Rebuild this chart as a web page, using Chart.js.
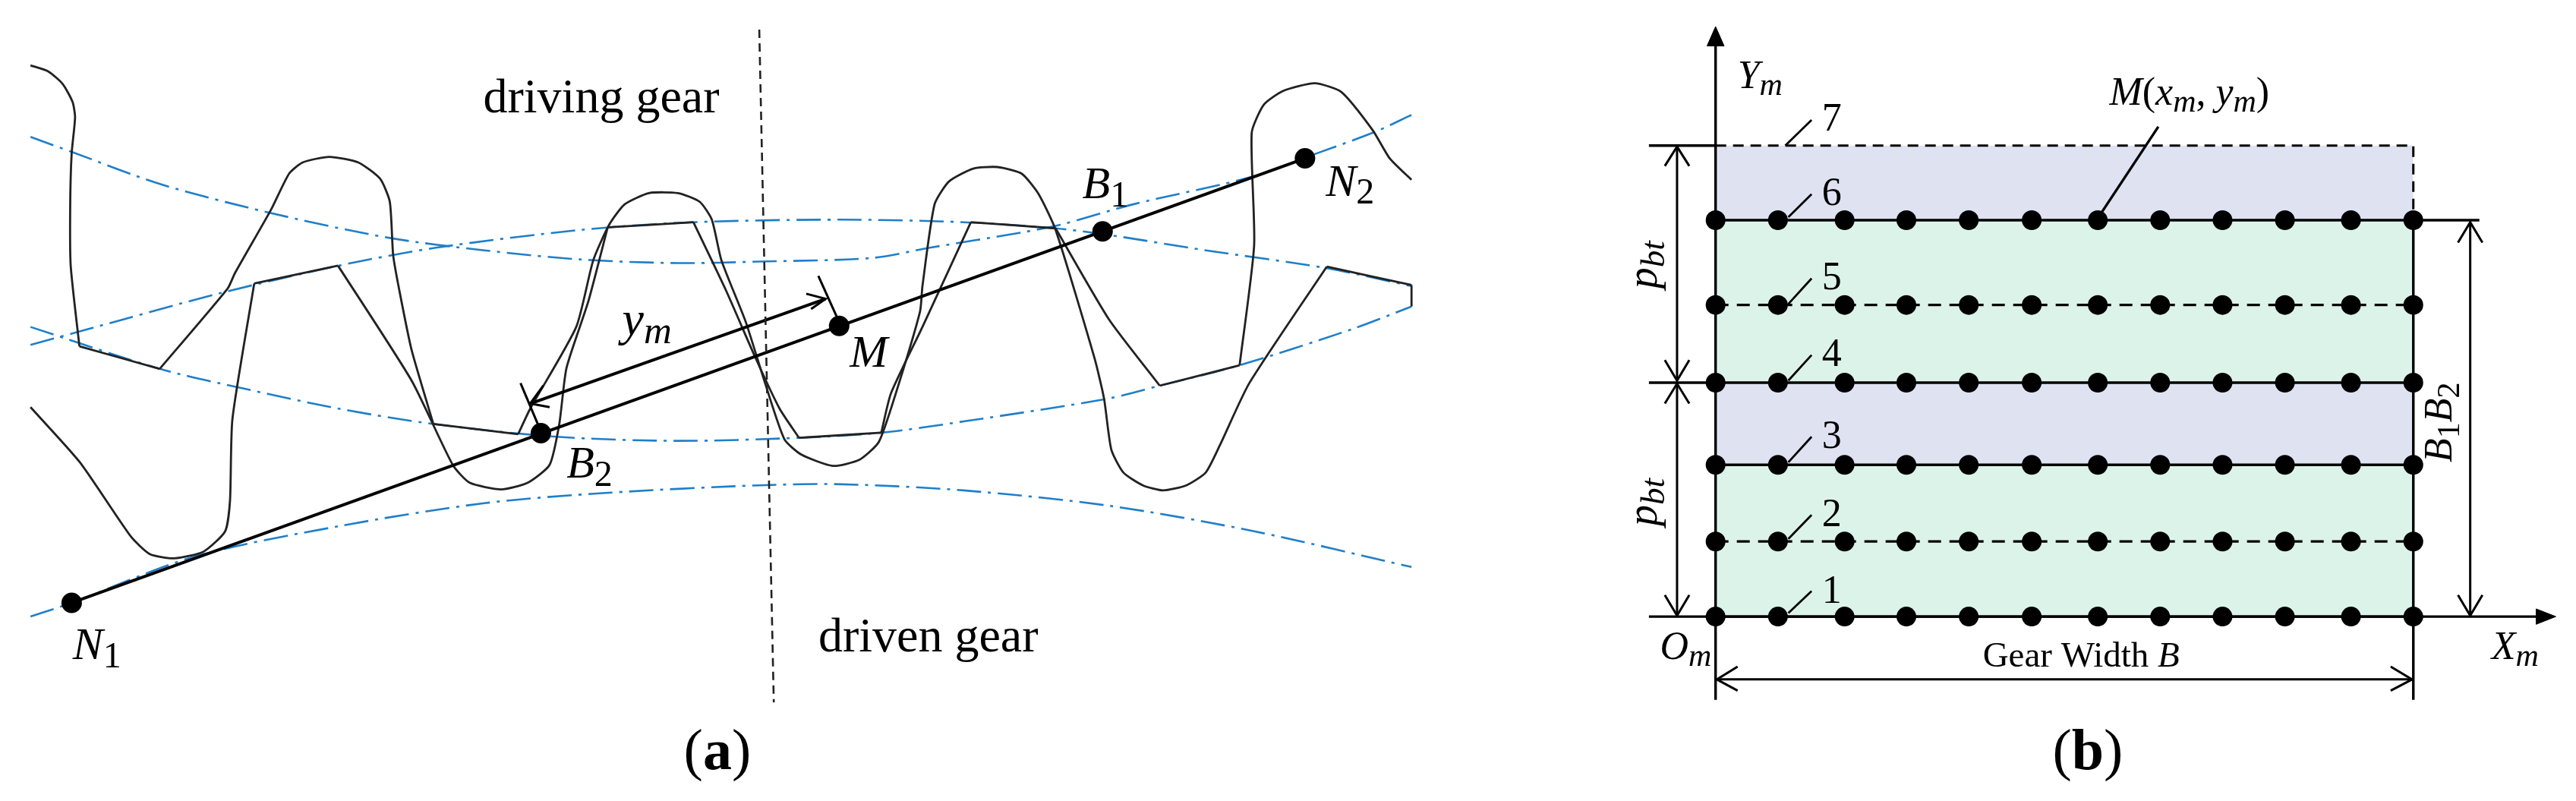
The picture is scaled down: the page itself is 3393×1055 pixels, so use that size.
<!DOCTYPE html>
<html>
<head>
<meta charset="utf-8">
<title>Gear meshing</title>
<script src="https://cdn.jsdelivr.net/npm/chart.js@4/dist/chart.umd.min.js"></script>
<style>
  html, body { margin: 0; padding: 0; background: #fff; }
  canvas { position: absolute; top: 0; }
  #panelA { left: 0; }
  #panelB { left: 2130px; }
</style>
</head>
<body>
<canvas id="panelA" width="1900" height="1055"></canvas>
<canvas id="panelB" width="1263" height="1055"></canvas>
<script>
// panel (a): values, in drawing units
const topArc = [[63,268],[150,298],[330,360],[550,415],[800,465],[1000,490],[1200,508],[1400,515],[1568,512],[1800,505],[1920,485],[2110,455],[2190,440],[2340,400],[2590,345],[2720,300],[2840,258],[2915,225]];
const upperArc = [[63,675],[160,650],[450,575],[700,520],[900,485],[1200,450],[1432,435],[1740,430],[1990,435],[2180,447],[2290,460],[2490,490],[2740,525],[2915,560]];
const lowerArc = [[63,640],[330,722],[500,760],[700,800],[895,830],[1150,855],[1400,863],[1650,857],[1820,847],[1990,825],[2290,780],[2395,755],[2560,715],[2790,645],[2915,600]];
const bottomArc = [[63,1207],[148,1180],[400,1090],[700,1030],[1000,985],[1250,965],[1568,950],[1740,948],[1990,960],[2290,990],[2590,1040],[2915,1110]];

const drivingFlanks = [
  [[63,128],[100,140],[130,165],[150,200],[155,230],[148,300],[145,400],[146,520],[164,678]],
  [[164,678],[330,722]],
  [[330,722],[470,565],[485,535],[560,410],[597,340],[625,318],[680,307],[740,318],[785,350],[805,395],[812,500],[825,570],[850,685],[895,830]],
  [[895,830],[1070,850]],
  [[1070,850],[1095,800],[1190,640],[1225,510],[1258,440],[1290,400],[1340,378],[1400,378],[1445,395],[1470,430],[1490,510],[1540,630],[1580,750],[1620,860],[1655,890],[1720,912],[1775,900],[1815,865],[1850,770],[1900,610],[1905,560],[1930,400],[1960,355],[2010,330],[2060,327],[2110,340],[2145,380],[2180,450],[2260,700],[2280,780],[2295,880],[2320,925],[2360,950],[2402,960],[2450,950],[2490,925],[2520,870],[2580,750],[2740,522]],
  [[2740,522],[2915,558]],
  [[2915,558],[2915,600]]
];
const drivenFlanks = [
  [[63,797],[165,905],[270,1050],[310,1085],[360,1093],[420,1080],[465,1040],[475,980],[480,820],[525,555]],
  [[525,555],[698,520]],
  [[698,520],[850,745],[935,910],[970,945],[1035,958],[1090,945],[1135,910],[1155,830],[1170,720],[1215,590],[1255,445]],
  [[1255,445],[1432,435]],
  [[1432,435],[1500,570],[1560,700],[1610,800],[1650,857]],
  [[1650,857],[1820,847]],
  [[1820,847],[1840,770],[1905,640],[2005,435]],
  [[2005,435],[2180,447]],
  [[2180,447],[2290,625],[2395,755]],
  [[2395,755],[2560,715]],
  [[2560,715],[2590,480],[2585,260],[2610,205],[2650,178],[2715,163],[2770,180],[2835,255],[2870,310],[2915,352]]
];
const actionLine = [[148,1180],[2695,310]];
const actionPoints = [[148,1180],[1117,848],[1733,638],[2277,453],[2695,310]];
const ymDimension = [[1095,790],[1705,585]];
const ymStrokes = [
  [[1075,750],[1115,840]],
  [[1690,540],[1728,620]],
  [[1122,755],[1095,790],[1135,797]],
  [[1665,575],[1705,585],[1675,605]]
];
const centerLine = [[1568,58],[1598,1375]];

// panel (b)
const stations = [161,263,372,473,575,678,786,888,990,1092,1200,1302];
const solidRows = [1207,910,749,431];
const dashedRows = [1060,597];
const rowLabels = ['1','2','3','4','5','6','7'];
const labelBaselines = [1180,1030,877,717,567,402,255];
const leaderStrokes = [[[280,1200],[318,1157]],[[280,1055],[318,1008]],[[280,905],[318,855]],[[280,745],[318,695]],[[280,595],[318,545]],[[280,425],[318,380]],[[275,285],[318,235]]];
const greenBands = [[1207,910],[749,431]];
const blueBands = [[910,749],[431,285]];

const axisLines = [
  [[161,80],[161,1370]],
  [[52,1207],[1510,1207]],
  [[1302,431],[1302,1370]],
  [[52,285],[161,285]],
  [[52,749],[161,749]],
  [[1302,431],[1410,431]],
  [[790,420],[885,248]]
];
const dashedBorder = [[161,285],[1302,285],[1302,431]];
const dimLines = [
  [[98,285],[98,745]],
  [[78,325],[98,287],[118,325]],
  [[78,705],[98,745],[118,705]],
  [[98,751],[98,1205]],
  [[78,790],[98,751],[118,790]],
  [[78,1165],[98,1205],[118,1165]],
  [[1395,435],[1395,1205]],
  [[1375,475],[1395,435],[1415,475]],
  [[1375,1165],[1395,1205],[1415,1165]],
  [[163,1330],[1300,1330]],
  [[197,1305],[163,1330],[197,1352]],
  [[1265,1305],[1300,1330],[1265,1352]]
];
const axisHeads = [
  [[161,52],[147,90],[175,90],[161,52]],
  [[1535,1207],[1503,1192],[1503,1222],[1535,1207]]
];

const BLUE = '#1f7fc9';
const GREEN = '#dcf3e9';
const LILAC = '#dfe2f1';
const SERIF = '"Liberation Serif", serif';

const xy = pts => pts.map(p => ({ x: p[0], y: p[1] }));
function stroke(pts, color, width, dash, tension) {
  return { data: xy(pts), showLine: true, borderColor: color, borderWidth: width, borderDash: dash || [],
    tension: tension || 0, pointRadius: 0, fill: false, borderCapStyle: 'butt' };
}
function band(b, color) {
  return { data: [{ x: 161, y: b[0] }, { x: 1302, y: b[0] }], showLine: true, borderWidth: 0, pointRadius: 0,
    backgroundColor: color, fill: { value: b[1] } };
}
function dots(pts, r) {
  return { data: xy(pts), showLine: false, pointRadius: r, pointBackgroundColor: '#000', pointBorderWidth: 0 };
}

// real text drawn on the canvas, placed through the chart scales
function textPlugin(items) {
  const fonts = { r: [1, ''], i: [1, 'italic '], b: [1, 'bold '], s: [0.8, ''], si: [0.8, 'italic '] };
  return {
    id: 'figText',
    afterDatasetsDraw(chart) {
      const c = chart.ctx;
      items.forEach(t => {
        c.save();
        c.translate(chart.scales.x.getPixelForValue(t.x), chart.scales.y.getPixelForValue(t.y));
        if (t.rot) c.rotate(t.rot);
        c.fillStyle = '#000';
        c.textBaseline = 'alphabetic';
        let pos = 0;
        t.runs.forEach(run => {
          const f = fonts[run[1]];
          c.font = f[1] + Math.round(t.size * f[0]) + 'px ' + SERIF;
          c.fillText(run[0], pos, f[0] < 1 ? t.size * 0.18 : 0);
          pos += c.measureText(run[0]).width;
        });
        c.restore();
      });
    }
  };
}

function figure(id, xMax, datasets, items) {
  new Chart(document.getElementById(id), {
    type: 'scatter',
    // chart.js paints the last dataset first, so flip to keep bands at the bottom
    data: { datasets: datasets.reverse() },
    options: {
      responsive: false,
      animation: false,
      devicePixelRatio: 1,
      layout: { padding: 0, autoPadding: false },
      plugins: { legend: { display: false }, tooltip: { enabled: false } },
      scales: {
        x: { type: 'linear', min: 0, max: xMax, display: false },
        y: { type: 'linear', min: 0, max: 1568, reverse: true, display: false }
      }
    },
    plugins: [textPlugin(items)]
  });
}

const panelAText = [
  { x: 998, y: 220, size: 64, runs: [['driving gear', 'r']] },
  { x: 1690, y: 1275, size: 64, runs: [['driven gear', 'r']] },
  { x: 150, y: 1290, size: 60, runs: [['N', 'i'], ['1', 's']] },
  { x: 1170, y: 935, size: 60, runs: [['B', 'i'], ['2', 's']] },
  { x: 1755, y: 718, size: 60, runs: [['M', 'i']] },
  { x: 2235, y: 388, size: 60, runs: [['B', 'i'], ['1', 's']] },
  { x: 2738, y: 383, size: 60, runs: [['N', 'i'], ['2', 's']] },
  { x: 1285, y: 655, size: 64, runs: [['y', 'i'], ['m', 'si']] },
  { x: 1412, y: 1505, size: 76, runs: [['(', 'r'], ['a', 'b'], [')', 'r']] }
];

const panelBText = [
  { x: 197, y: 172, size: 52, runs: [['Y', 'i'], ['m', 'si']] },
  { x: 70, y: 1290, size: 52, runs: [['O', 'i'], ['m', 'si']] },
  { x: 1430, y: 1290, size: 52, runs: [['X', 'i'], ['m', 'si']] },
  { x: 805, y: 205, size: 52, runs: [['M', 'i'], ['(', 'r'], ['x', 'i'], ['m', 'si'], [', ', 'r'], ['y', 'i'], ['m', 'si'], [')', 'r']] },
  { x: 598, y: 1305, size: 47, runs: [['Gear Width ', 'r'], ['B', 'i']] },
  { x: 65, y: 565, size: 56, rot: -Math.PI / 2, runs: [['p', 'i'], ['bt', 'si']] },
  { x: 65, y: 1030, size: 56, rot: -Math.PI / 2, runs: [['p', 'i'], ['bt', 'si']] },
  { x: 1365, y: 905, size: 52, rot: -Math.PI / 2, runs: [['B', 'i'], ['1', 's'], ['B', 'i'], ['2', 's']] },
  { x: 712, y: 1505, size: 76, runs: [['(', 'r'], ['b', 'b'], [')', 'r']] }
].concat(rowLabels.map((t, i) => ({ x: 335, y: labelBaselines[i], size: 52, runs: [[t, 'r']] })));

figure('panelA', 2979, [
  ...[topArc, upperArc, lowerArc, bottomArc].map(a => stroke(a, BLUE, 2.6, [32, 9, 4, 9], 0.3)),
  ...drivingFlanks.concat(drivenFlanks).map(f => stroke(f, '#222', 2.8, [], 0.2)),
  stroke(actionLine, '#000', 4),
  stroke(ymDimension, '#000', 4),
  ...ymStrokes.map(s => stroke(s, '#000', 3)),
  stroke(centerLine, '#222', 2.6, [11, 7]),
  dots(actionPoints, 13.5)
], panelAText);

figure('panelB', 1568, [
  ...greenBands.map(b => band(b, GREEN)),
  ...blueBands.map(b => band(b, LILAC)),
  ...axisLines.map(l => stroke(l, '#000', 3.4)),
  ...solidRows.map(y => stroke([[161, y], [1302, y]], '#000', 3.4)),
  ...dashedRows.map(y => stroke([[161, y], [1302, y]], '#000', 3.2, [17, 11])),
  stroke(dashedBorder, '#000', 3, [14, 9]),
  ...dimLines.map(l => stroke(l, '#000', 3)),
  ...leaderStrokes.map(l => stroke(l, '#000', 2.8)),
  ...axisHeads.map(h => Object.assign(stroke(h, '#000', 1), { fill: 'shape', backgroundColor: '#000' })),
  ...solidRows.concat(dashedRows).map(y => dots(stations.map(x => [x, y]), 13))
], panelBText);
</script>
</body>
</html>
